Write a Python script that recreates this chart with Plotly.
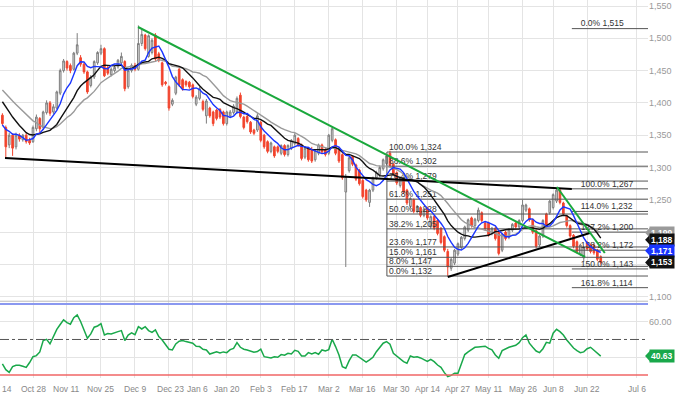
import plotly.graph_objects as go
import pandas as pd

# ---------------- data (trading-day index 0 = Oct 15) ----------------
OPEN = [1381,1362,1335,1350,1332,1350,1343,1350,1342,1340,
        1360,1376,1362,1385,1400,1386,1392,1415,1450,1464,
        1458,1452,1477,1470,1460,1448,1427,1440,1462,1477,
        1484,1455,1444,1450,1456,1462,1464,1425,1450,1458,
        1452,1492,1505,1472,1478,1505,1476,1462,1432,1425,
        1398,1415,1452,1436,1433,1432,1428,1398,1407,1402,
        1380,1392,1386,1389,1390,1386,1368,1380,1385,1386,
        1412,1378,1379,1370,1358,1358,1370,1350,1340,1325,
        1332,1332,1322,1334,1320,1330,1337,1345,1335,1316,
        1330,1328,1312,1322,1335,1328,1322,1342,1343,1330,
        1320,1262,1295,1317,1304,1296,1280,1265,1246,1265,
        1284,1288,1298,1306,1322,1305,1292,1272,1282,1265,
        1240,1250,1232,1238,1226,1237,1208,1224,1218,1206,
        1193,1170,1144,1152,1166,1176,1190,1203,1222,1210,
        1218,1230,1214,1214,1198,1206,1200,1172,1200,1192,
        1203,1214,1208,1218,1234,1236,1219,1202,1180,1194,
        1228,1230,1238,1248,1265,1245,1225,1210,1195,1185,
        1166,1160,1184,1180,1180,1172,1162]
HIGH = [1384,1365,1354,1353,1354,1353,1352,1353,1346,1365,
        1382,1378,1388,1404,1403,1398,1419,1453,1468,1466,
        1461,1479,1508,1474,1462,1450,1443,1466,1480,1490,
        1486,1458,1455,1458,1468,1478,1466,1452,1461,1462,
        1520,1515,1507,1506,1500,1508,1479,1464,1434,1427,
        1407,1442,1456,1438,1435,1434,1430,1412,1425,1405,
        1406,1394,1388,1391,1392,1388,1388,1389,1398,1410,
        1416,1380,1381,1372,1360,1384,1372,1352,1342,1340,
        1334,1334,1336,1336,1336,1344,1353,1347,1337,1332,
        1332,1332,1328,1337,1337,1330,1352,1364,1345,1332,
        1322,1290,1318,1319,1306,1298,1282,1267,1267,1286,
        1295,1303,1314,1320,1326,1307,1294,1286,1284,1267,
        1254,1252,1242,1240,1238,1239,1226,1226,1220,1208,
        1195,1174,1160,1174,1184,1194,1210,1221,1224,1222,
        1238,1232,1216,1216,1208,1208,1202,1198,1202,1206,
        1214,1216,1220,1250,1244,1238,1221,1204,1196,1220,
        1230,1250,1260,1270,1267,1247,1227,1212,1197,1187,
        1182,1178,1186,1182,1182,1174,1164]
LOW = [1365,1314,1330,1318,1328,1340,1340,1337,1335,1338,
       1356,1352,1358,1382,1380,1383,1390,1412,1447,1450,
       1446,1450,1474,1456,1445,1414,1424,1437,1459,1474,
       1440,1443,1441,1447,1453,1459,1418,1422,1447,1449,
       1450,1488,1481,1470,1475,1465,1463,1425,1427,1388,
       1395,1412,1425,1419,1425,1422,1407,1395,1404,1387,
       1368,1377,1364,1373,1375,1365,1365,1377,1382,1383,
       1376,1359,1368,1352,1350,1355,1339,1329,1322,1322,
       1315,1322,1319,1317,1317,1327,1334,1332,1311,1313,
       1309,1307,1309,1319,1321,1317,1319,1339,1319,1307,
       1281,1146,1292,1302,1279,1272,1252,1247,1239,1262,
       1281,1285,1295,1303,1300,1287,1273,1269,1259,1242,
       1237,1229,1229,1223,1223,1219,1205,1203,1195,1181,
       1169,1132,1140,1149,1163,1173,1187,1200,1207,1207,
       1215,1215,1202,1193,1195,1187,1164,1169,1187,1189,
       1200,1205,1205,1215,1231,1216,1197,1175,1177,1191,
       1207,1227,1235,1245,1243,1225,1207,1191,1175,1167,
       1163,1154,1171,1167,1165,1155,1150]
CLOSE = [1368,1332,1350,1330,1350,1344,1350,1340,1338,1362,
         1378,1360,1386,1400,1384,1394,1417,1450,1465,1454,
         1450,1477,1490,1460,1448,1417,1440,1464,1478,1484,
         1442,1446,1452,1455,1466,1472,1422,1450,1458,1452,
         1492,1506,1484,1504,1497,1468,1466,1428,1430,1392,
         1404,1440,1428,1422,1428,1425,1410,1409,1422,1390,
         1403,1380,1368,1376,1378,1368,1386,1386,1395,1407,
         1379,1362,1371,1355,1353,1380,1342,1332,1325,1338,
         1318,1325,1334,1320,1334,1342,1350,1335,1314,1330,
         1312,1310,1326,1335,1324,1320,1350,1360,1322,1310,
         1284,1286,1315,1305,1282,1275,1255,1250,1265,1284,
         1292,1300,1312,1318,1303,1290,1276,1284,1262,1245,
         1252,1232,1240,1226,1236,1222,1224,1206,1198,1184,
         1172,1146,1158,1172,1182,1192,1208,1219,1210,1220,
         1234,1218,1205,1196,1206,1190,1167,1196,1190,1204,
         1212,1208,1218,1242,1242,1219,1200,1178,1194,1218,
         1210,1248,1258,1265,1246,1228,1210,1194,1178,1170,
         1180,1176,1174,1170,1168,1158,1153]
# closes of the sessions just before the first visible candle (off-screen, for the averages)
PRE_CLOSE = [1462,1458,1450,1460,1455,1452,1458,
             1455,1448,1440,1445,1432,1425,1420,
             1380,1370,1362,1350,1355,1375]
RSI = [36.2,33.0,31.5,34.7,35.5,35.5,34.9,34.3,37.0,40.3,
       40.9,43.0,49.4,50.1,47.5,52.0,55.7,58.4,61.0,59.5,
       58.6,62.3,63.8,60.1,55.4,50.7,53.1,56.9,57.6,58.9,
       52.5,53.3,53.1,53.9,54.4,55.0,49.4,52.5,53.7,52.7,
       57.2,55.9,57.2,55.0,54.0,55.4,51.6,49.7,46.9,44.5,
       44.1,47.5,49.0,49.4,48.8,48.4,47.9,46.2,46.0,44.5,
       44.1,41.8,42.2,43.0,42.4,43.0,42.6,44.3,45.0,48.2,
       45.6,44.5,44.1,43.3,42.8,43.2,44.5,40.3,40.0,39.6,
       40.3,40.0,41.5,41.1,42.2,41.8,43.9,43.3,40.7,40.7,
       42.6,41.8,42.6,41.7,44.1,43.5,44.3,50.1,46.0,41.3,
       34.7,33.8,38.1,41.3,41.3,40.0,38.5,37.3,38.5,40.0,
       43.1,45.4,47.9,48.8,47.3,42.2,40.7,39.4,37.5,36.6,
       40.7,40.0,40.3,39.6,38.8,37.7,38.8,37.5,35.6,34.3,
       31.3,29.1,29.8,31.0,31.0,36.2,41.5,43.0,44.5,45.6,
       45.8,45.8,46.2,45.0,44.1,41.3,39.4,43.7,44.8,45.6,
       46.2,46.7,48.2,51.0,52.5,47.9,45.6,43.5,42.6,44.8,
       48.4,47.9,53.5,55.7,54.4,52.5,49.7,47.5,45.2,43.7,
       42.6,43.0,44.8,45.6,44.1,42.5,40.63]

MA_PERIODS = [7, 14, 21]
MA_COLORS = ["#1a35ff", "#111111", "#9a9a9a"]
MA_LAST_TEXT = ["1,171", "1,188", "1,199"]
MA_LAST_VALUE = [1171, 1188, 1199]
LAST_CLOSE_TEXT = "1,153"
LAST_RSI_TEXT = "40.63"

PRICE_TICKS = [1100, 1150, 1200, 1250, 1300, 1350, 1400, 1450, 1500, 1550]
PRICE_TICK_TEXT = ["1,100", "", "", "1,250", "1,300", "1,350", "1,400", "1,450", "1,500", "1,550"]
RSI_TICKS = [40, 60]
RSI_TICK_TEXT = ["", "60.00"]

GRID_IDX = [-1, 9, 19, 29, 39, 49, 56, 66, 76, 86, 96, 106, 116, 125, 134, 143, 153, 162, 172, 186.6]
DATE_LABELS = ["14", "Oct 28", "Nov 11", "Nov 25", "Dec 9", "Dec 23", "Jan 6", "Jan 20", "Feb 3",
               "Feb 17", "Mar 2", "Mar 16", "Mar 30", "Apr 14", "Apr 27", "May 11", "May 26",
               "Jun 8", "Jun 22", "Jul 6"]
LABEL_IDX = [1.35, 9, 19, 29, 39, 49.5, 57.3, 66, 76, 86, 96, 106, 116, 125, 134, 143, 153, 162, 172, 186.6]

FIB_RETR = [("100.0%", 1324), ("88.6%", 1302), ("76.4%", 1279), ("61.8%", 1251), ("50.0%", 1228),
            ("38.2%", 1205), ("23.6%", 1177), ("15.0%", 1161), ("8.0%", 1147), ("0.0%", 1132)]
FIB_RETR_START = 113.1
FIB_EXT = [("0.0%", 1515), ("100.0%", 1267), ("114.0%", 1232), ("127.2%", 1200), ("138.2%", 1172),
           ("150.0%", 1143), ("161.8%", 1114)]
FIB_EXT_START = 167.5

TRENDLINES = [  # (x0, y0, x1, y1, colour)
    (0.76, 1314.7, 167.5, 1266.7, "#000000"),
    (131.0, 1130.5, 172.8, 1198.6, "#000000"),
    (39.9, 1517.5, 171.4, 1161.5, "#1aa83c"),
    (163.1, 1269.8, 177.2, 1167.6, "#1aa83c"),
]

X_RANGE = [-0.706, 189.9]
Y_RANGE = [1091.8, 1559.3]
RSI_RANGE = [28.3, 71.1]
# ---------------------------------------------------------------

N = len(CLOSE)
idx = list(range(N))
allc = pd.Series(PRE_CLOSE + CLOSE)
mas = [allc.rolling(p).mean().tolist()[len(PRE_CLOSE):] for p in MA_PERIODS]

fig = go.Figure()
FONT = "Liberation Sans, Arial, sans-serif"

# fib lines (under candles)
fx, fy = [], []
for _, lv in FIB_RETR:
    fx += [FIB_RETR_START, X_RANGE[1], None]; fy += [lv, lv, None]
fx += [FIB_RETR_START, FIB_RETR_START, None]; fy += [FIB_RETR[0][1], FIB_RETR[-1][1], None]
for _, lv in FIB_EXT:
    fx += [FIB_EXT_START, X_RANGE[1], None]; fy += [lv, lv, None]
fig.add_trace(go.Scatter(x=fx, y=fy, mode="lines", line=dict(color="#555555", width=1),
                         hoverinfo="skip", showlegend=False, xaxis="x", yaxis="y"))
lx = [FIB_RETR_START + 0.6] * len(FIB_RETR) + [FIB_EXT_START + 2.6] * len(FIB_EXT)
ly = [lv for _, lv in FIB_RETR] + [lv for _, lv in FIB_EXT]
lt = [f"{p} {lv:,}" for p, lv in FIB_RETR] + [f"{p} {lv:,}" for p, lv in FIB_EXT]
fig.add_trace(go.Scatter(x=lx, y=ly, mode="text", text=lt, textposition="top right",
                         textfont=dict(family=FONT, size=8.5, color="#333333"),
                         hoverinfo="skip", showlegend=False, cliponaxis=False))

fig.add_trace(go.Candlestick(
    x=idx, open=OPEN, high=HIGH, low=LOW, close=CLOSE,
    increasing=dict(line=dict(color="#7d7d7d", width=1), fillcolor="#dedede"),
    decreasing=dict(line=dict(color="#f2442d", width=1), fillcolor="#f2442d"),
    whiskerwidth=0, showlegend=False, xaxis="x", yaxis="y"))

for m, c in zip(mas[::-1], MA_COLORS[::-1]):
    fig.add_trace(go.Scatter(x=idx, y=m, mode="lines", line=dict(color=c, width=1.4),
                             hoverinfo="skip", showlegend=False))

for x0, y0, x1, y1, c in TRENDLINES:
    fig.add_trace(go.Scatter(x=[x0, x1], y=[y0, y1], mode="lines", line=dict(color=c, width=2),
                             hoverinfo="skip", showlegend=False))

# RSI
fig.add_trace(go.Scatter(x=idx, y=RSI, mode="lines", line=dict(color="#19a84a", width=1.5),
                         hoverinfo="skip", showlegend=False, xaxis="x2", yaxis="y2"))

shapes = []
for lv, col, dash, w in [(70, "#8a98f0", "solid", 2), (50, "#555555", "dashdot", 1), (30, "#f06666", "solid", 1.5)]:
    shapes.append(dict(type="line", xref="x2 domain", yref="y2", x0=0, x1=1, y0=lv, y1=lv,
                       line=dict(color=col, width=w, dash=dash)))
shapes.append(dict(type="line", xref="paper", yref="y", x0=0, x1=1, y0=Y_RANGE[0] + 1.2, y1=Y_RANGE[0] + 1.2,
                   line=dict(color="#bbbbbb", width=1)))

annotations = []
for t, xi in zip(DATE_LABELS, LABEL_IDX):
    annotations.append(dict(x=xi, y=0, xref="x2", yref="paper", text=t, showarrow=False,
                            yanchor="top", yshift=-4, font=dict(family=FONT, size=8.5, color="#888888")))

def value_tag(val, text, color, yref, dy):
    annotations.append(dict(x=1, y=val, xref="paper", yref=yref, text=f"<b>{text}</b>", showarrow=False,
                            xanchor="left", xshift=1, bgcolor=color, borderpad=1,
                            font=dict(family=FONT, size=8.5, color="white")))
    shapes.append(dict(type="path", xref="paper", yref=yref, fillcolor=color, line=dict(width=0),
                       path=f"M 0.9955 {val} L 1.003 {val + dy} L 1.003 {val - dy} Z"))

value_tag(MA_LAST_VALUE[2], MA_LAST_TEXT[2], MA_COLORS[2], "y", 8)
value_tag(MA_LAST_VALUE[1], MA_LAST_TEXT[1], MA_COLORS[1], "y", 8)
value_tag(MA_LAST_VALUE[0], MA_LAST_TEXT[0], MA_COLORS[0], "y", 8)
value_tag(CLOSE[-1], LAST_CLOSE_TEXT, "#111111", "y", 8)
value_tag(RSI[-1], LAST_RSI_TEXT, "#19a84a", "y2", 3)

GRID = "#e4e4e4"
split = (378 - 302) / 378
fig.update_layout(
    width=680, height=398, margin=dict(l=0, r=32, t=0, b=20),
    paper_bgcolor="white", plot_bgcolor="white",
    xaxis=dict(domain=[0, 1], anchor="y", range=X_RANGE, tickvals=GRID_IDX, showticklabels=False,
               showgrid=True, gridcolor=GRID, zeroline=False, rangeslider=dict(visible=False), fixedrange=True),
    xaxis2=dict(domain=[0, 1], anchor="y2", range=X_RANGE, tickvals=GRID_IDX, showticklabels=False,
                showgrid=True, gridcolor=GRID, zeroline=False, matches="x"),
    yaxis=dict(domain=[split, 1], range=Y_RANGE, side="right", tickvals=PRICE_TICKS, ticktext=PRICE_TICK_TEXT,
               showgrid=True, gridcolor=GRID, zeroline=False, ticks="",
               tickfont=dict(family=FONT, size=9, color="#999999")),
    yaxis2=dict(domain=[0, split], range=RSI_RANGE, side="right", tickvals=RSI_TICKS, ticktext=RSI_TICK_TEXT,
                showgrid=True, gridcolor=GRID, zeroline=False, ticks="",
                tickfont=dict(family=FONT, size=9, color="#999999")),
    shapes=shapes, annotations=annotations, hovermode=False,
)
fig.write_html("out.html", config={"displayModeBar": False},
               post_script="document.body.style.margin='0';document.body.style.overflow='hidden';")
